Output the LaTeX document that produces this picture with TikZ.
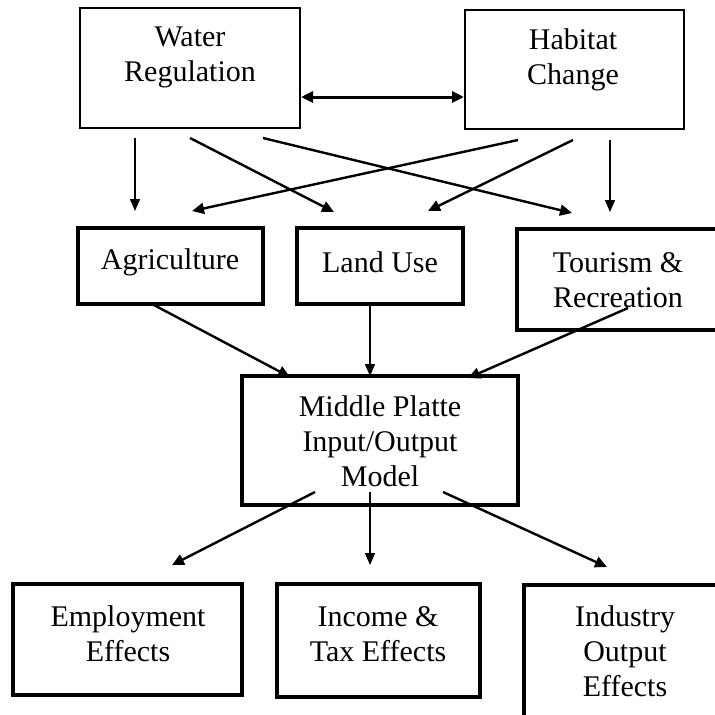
\documentclass[tikz,border=0pt]{standalone}
\usepackage{fontspec}
\setmainfont{Liberation Serif}
\usetikzlibrary{arrows.meta}
\begin{document}
\begin{tikzpicture}[x=1pt,y=-1pt,
  boxthin/.style={draw, line width=2.4pt, inner sep=0pt},
  boxthick/.style={draw, line width=3.6pt, inner sep=0pt},
  lbl/.style={align=center, inner sep=0pt, font=\fontsize{30}{35}\selectfont},
  arr/.style={line width=2.4pt, -{Triangle[length=12pt,width=11pt]}},
  arrthin/.style={line width=1.5pt, -{Triangle[length=12pt,width=10pt]}},
  darr/.style={line width=3pt, {Triangle[length=12pt,width=11pt]}-{Triangle[length=12pt,width=11pt]}}]
\useasboundingbox (0,0) rectangle (715,715);
% boxes
\node[boxthin, minimum width=220pt, minimum height=120pt] (wr) at (190,68) {};
\node[boxthin, minimum width=219pt, minimum height=119pt] (hc) at (574.5,69.5) {};
\node[boxthick, minimum width=185pt, minimum height=76pt] (ag) at (170.5,266) {};
\node[boxthick, minimum width=166pt, minimum height=76pt] (lu) at (380,266) {};
\node[boxthick, minimum width=208pt, minimum height=101pt] (tr) at (621,279.5) {};
\node[boxthick, minimum width=276pt, minimum height=129pt] (mp) at (380,440.5) {};
\node[boxthick, minimum width=229pt, minimum height=111pt] (em) at (127.5,639.5) {};
\node[boxthick, minimum width=203pt, minimum height=113pt] (it) at (378.5,640.5) {};
\node[boxthick, minimum width=201pt, minimum height=140pt] (io) at (624.5,655) {};
% labels
\node[lbl] (wrt) at (190,57) {Water\\Regulation};
\node[lbl] (hct) at (573,60) {Habitat\\Change};
\node[lbl] (agt) at (170,262) {Agriculture};
\node[lbl] (lut) at (380,262) {Land Use};
\node[lbl] (trt) at (618,280) {Tourism \&\\Recreation};
\node[lbl] (mpt) at (380,441) {Middle Platte\\Input/Output\\Model};
\node[lbl] (emt) at (128,634) {Employment\\Effects};
\node[lbl] (itt) at (378,634) {Income \&\\Tax Effects};
\node[lbl] (iot) at (625,651) {Industry\\Output\\Effects};
% connector end points
\coordinate (d1) at (301,97);
\coordinate (d2) at (464,97);
\coordinate (s1) at (135,138); \coordinate (e1) at (135,211);
\coordinate (s2) at (190,138); \coordinate (e2) at (334,212);
\coordinate (s3) at (263,138); \coordinate (e3) at (572,213);
\coordinate (s4) at (518,140); \coordinate (e4) at (192,211);
\coordinate (s5) at (573,140); \coordinate (e5) at (428,211);
\coordinate (s6) at (610,140); \coordinate (e6) at (610,212);
\coordinate (s7) at (152,304); \coordinate (e7) at (290,377);
\coordinate (s8) at (370,304); \coordinate (e8) at (370,376);
\coordinate (s9) at (628,308); \coordinate (e9) at (468,378);
\coordinate (s10) at (315,492); \coordinate (e10) at (172,565);
\coordinate (s11) at (370,492); \coordinate (e11) at (370,565);
\coordinate (s12) at (443,492); \coordinate (e12) at (607,567);
% connectors
\draw[darr] (d1) -- (d2);
\draw[arrthin] (s1) -- (e1);
\draw[arr] (s2) -- (e2);
\draw[arr] (s3) -- (e3);
\draw[arr] (s4) -- (e4);
\draw[arr] (s5) -- (e5);
\draw[arrthin] (s6) -- (e6);
\draw[arr] (s7) -- (e7);
\draw[arrthin] (s8) -- (e8);
\draw[arr] (s9) -- (e9);
\draw[arr] (s10) -- (e10);
\draw[arrthin] (s11) -- (e11);
\draw[arr] (s12) -- (e12);
\end{tikzpicture}
\end{document}
